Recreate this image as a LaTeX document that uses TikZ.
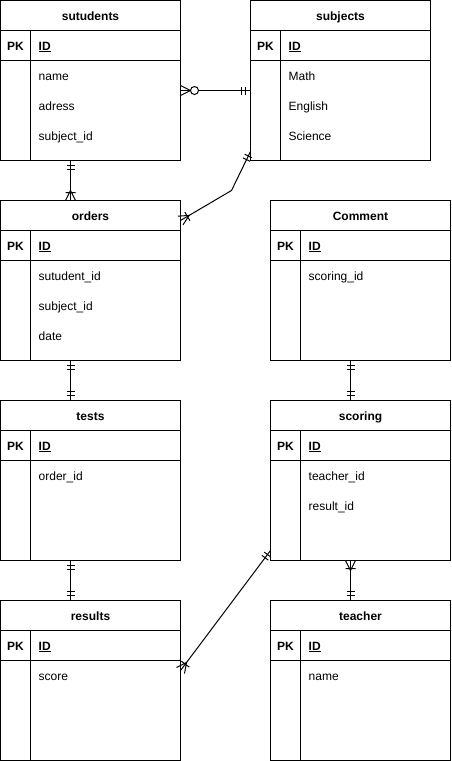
\documentclass[tikz,border=0pt]{standalone}
\usepackage{fontspec}
\setmainfont{Liberation Sans}
\usetikzlibrary{calc}
\tikzset{
  ertable/.style={draw, line width=1pt, minimum width=180pt, minimum height=160pt, inner sep=0pt, outer sep=0pt, anchor=north west},
  fld/.style={anchor=base west, inner sep=0pt, font=\fontsize{12}{14}\selectfont},
  ttl/.style={anchor=base, inner sep=0pt, font=\fontsize{12}{14}\selectfont\bfseries},
  conn/.style={draw, line width=1pt},
  mandone/.pic={\draw[line width=1pt] (5,-4)--(5,4) (9,-4)--(9,4);},
  onemany/.pic={\draw[line width=1pt] (0,-5)--(10,0)--(0,5) (8,-5)--(8,5);},
  zeromany/.pic={\draw[line width=1pt] (0,-5)--(10,0)--(0,5); \draw[line width=1pt, fill=white] (14,0) circle[radius=4pt];},
}
\newcommand{\ertable}[5]{%
  \node[ertable] (#1) at (#2,#3) {};
  \draw[line width=1pt] ($(#1.north west)+(0,30)$) -- ++(180,0);
  \draw[line width=1pt] ($(#1.north west)+(0,60)$) -- ++(180,0);
  \draw[line width=1pt] ($(#1.north west)+(30,30)$) -- ++(0,130);
  \node[ttl] (#1-t) at ($(#1.north)+(0,19.5)$) {#4};
  \node[ttl] (#1-pk) at ($(#1.north west)+(15,49.5)$) {PK};
  \node[ttl, anchor=base west] (#1-id) at ($(#1.north west)+(38,49.5)$) {\underline{ID}};
  \foreach \f [count=\i] in {#5} {\node[fld] (#1-f\i) at ($(#1.north west)+(38,49.5+30*\i)$) {\f};}
}
\begin{document}
\begin{tikzpicture}[x=1pt, y=-1pt]
\useasboundingbox (-0.5,-0.5) rectangle (450.5,760.5);
\ertable{students}{0}{0}{sutudents}{name,adress,subject\_id}
\ertable{subjects}{250}{0}{subjects}{Math,English,Science}
\ertable{orders}{0}{200}{orders}{sutudent\_id,subject\_id,date}
\ertable{comment}{270}{200}{Comment}{scoring\_id}
\ertable{tests}{0}{400}{tests}{order\_id}
\ertable{scoring}{270}{400}{scoring}{teacher\_id,result\_id}
\ertable{results}{0}{600}{results}{score}
\ertable{teacher}{270}{600}{teacher}{name}

% students - subjects
\coordinate (c1a) at ($(students.north east)+(0,90)$);
\coordinate (c1b) at ($(subjects.north west)+(0,90)$);
\draw[conn] (c1a) -- (c1b);
\pic[rotate=0] at (c1a) {zeromany};
\pic[rotate=180] at (c1b) {mandone};

% students - orders
\coordinate (c2a) at ($(students.south west)+(70,0)$);
\coordinate (c2b) at ($(orders.north west)+(70,0)$);
\draw[conn] (c2a) -- (c2b);
\pic[rotate=-90] at (c2a) {mandone};
\pic[rotate=90] at (c2b) {onemany};

% orders - subjects
\coordinate (c3a) at ($(orders.north east)+(0,20)$);
\coordinate (c3m) at (231,190);
\coordinate (c3b) at ($(subjects.north west)+(0,151)$);
\draw[conn] (c3a) -- (c3m) -- (c3b);
\pic[rotate=30.5] at (c3a) {onemany};
\pic[rotate=-116] at (c3b) {mandone};

% orders - tests
\coordinate (c4a) at ($(orders.south west)+(70,0)$);
\coordinate (c4b) at ($(tests.north west)+(70,0)$);
\draw[conn] (c4a) -- (c4b);
\pic[rotate=-90] at (c4a) {mandone};
\pic[rotate=90] at (c4b) {mandone};

% tests - results
\coordinate (c5a) at ($(tests.south west)+(70,0)$);
\coordinate (c5b) at ($(results.north west)+(70,0)$);
\draw[conn] (c5a) -- (c5b);
\pic[rotate=-90] at (c5a) {mandone};
\pic[rotate=90] at (c5b) {mandone};

% comment - scoring
\coordinate (c6a) at ($(comment.south west)+(80,0)$);
\coordinate (c6b) at ($(scoring.north west)+(80,0)$);
\draw[conn] (c6a) -- (c6b);
\pic[rotate=-90] at (c6a) {mandone};
\pic[rotate=90] at (c6b) {mandone};

% scoring - teacher
\coordinate (c7a) at ($(scoring.south west)+(80,0)$);
\coordinate (c7b) at ($(teacher.north west)+(80,0)$);
\draw[conn] (c7a) -- (c7b);
\pic[rotate=-90] at (c7a) {onemany};
\pic[rotate=90] at (c7b) {mandone};

% scoring - results
\coordinate (c8a) at ($(scoring.north west)+(0,150)$);
\coordinate (c8b) at ($(results.north east)+(0,70)$);
\draw[conn] (c8a) -- (c8b);
\pic[rotate=-126.87] at (c8a) {mandone};
\pic[rotate=53.13] at (c8b) {onemany};
\end{tikzpicture}
\end{document}
